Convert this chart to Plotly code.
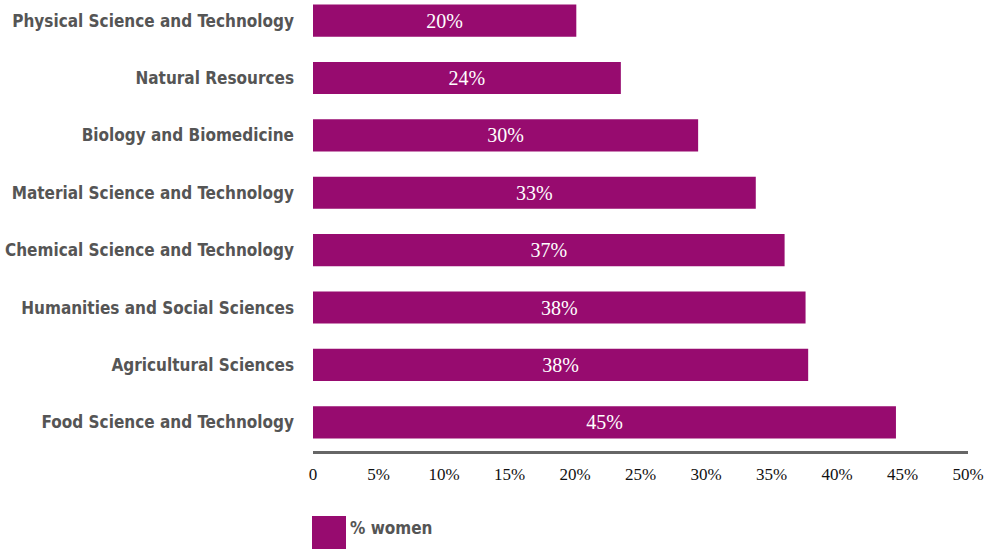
import plotly.graph_objects as go

categories = [
    "Physical Science and Technology",
    "Natural Resources",
    "Biology and Biomedicine",
    "Material Science and Technology",
    "Chemical Science and Technology",
    "Humanities and Social Sciences",
    "Agricultural Sciences",
    "Food Science and Technology",
]
values = [20.1, 23.5, 29.4, 33.8, 36.0, 37.6, 37.8, 44.5]
labels = ["20%", "24%", "30%", "33%", "37%", "38%", "38%", "45%"]
tick_vals = [0, 5, 10, 15, 20, 25, 30, 35, 40, 45, 50]
tick_text = ["0", "5%", "10%", "15%", "20%", "25%", "30%", "35%", "40%", "45%", "50%"]
series_name = "% women"

BAR = "#970B6F"
W, H = 995, 549
L, R, T, B = 313, 27, 0, 98
pw, ph = W - L - R, H - T - B
SANS = "DejaVu Sans Condensed, Liberation Sans Narrow, Roboto, sans-serif"
SERIF = "Liberation Serif, DejaVu Serif, serif"

fig = go.Figure()
fig.add_trace(go.Bar(
    y=categories[::-1], x=values[::-1], orientation="h",
    marker=dict(color=BAR, line=dict(width=0)),
    text=labels[::-1], textposition="inside", insidetextanchor="middle",
    textfont=dict(family=SERIF, size=20, color="white"),
    name=series_name, showlegend=False, hoverinfo="skip",
))

fig.update_layout(
    width=W, height=H,
    margin=dict(l=L, r=R, t=T, b=B, autoexpand=False),
    plot_bgcolor="white", paper_bgcolor="white",
    bargap=0.44,
    uniformtext=dict(minsize=20, mode="show"),
    xaxis=dict(range=[0, 50], tickvals=tick_vals, ticktext=tick_text,
               showgrid=False, zeroline=False, showline=True, automargin=False,
               linecolor="#666666", linewidth=3, ticks="",
               ticklabelstandoff=6,
               tickfont=dict(family=SERIF, size=17, color="#111111")),
    yaxis=dict(range=[-0.5, 7.36], showgrid=False, zeroline=False, showline=False, ticks="",
               automargin=False, ticklabelstandoff=18,
               tickfont=dict(family=SANS, size=17, color="#555555", weight="bold")),
)

def px_x(p):
    return (p - L) / pw

def px_y(p):
    return (T + ph - p) / ph

fig.add_shape(type="rect", xref="paper", yref="paper",
              x0=px_x(312), x1=px_x(346), y0=px_y(549), y1=px_y(516),
              fillcolor=BAR, line=dict(width=0))
fig.add_annotation(xref="paper", yref="paper", x=px_x(348), y=px_y(528),
                   xanchor="left", yanchor="middle", showarrow=False,
                   text=series_name,
                   font=dict(family=SANS, size=17, color="#555555", weight="bold"))

fig.write_html("out.html", config={"displayModeBar": False},
               post_script="document.body.style.margin='0';")
